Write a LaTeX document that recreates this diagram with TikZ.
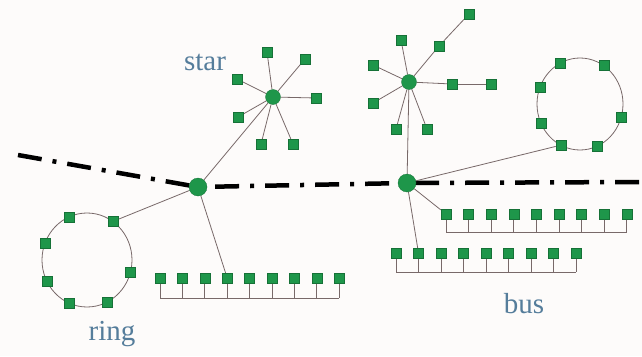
\documentclass[tikz,border=0pt]{standalone}
\usepackage{fontspec}
\setmainfont{Liberation Serif}
\usetikzlibrary{backgrounds,calc}
\definecolor{sqgreen}{RGB}{30,150,74}
\definecolor{lblblue}{RGB}{85,125,155}
\definecolor{wirecol}{RGB}{120,105,105}
\definecolor{bgcol}{RGB}{253,251,250}
\begin{document}
\begin{tikzpicture}[x=1pt,y=-1pt,
  sq/.style={fill=sqgreen, draw=sqgreen!75!black, line width=0.3pt, minimum size=10pt, inner sep=0pt},
  hub/.style={circle, fill=sqgreen, draw=sqgreen!75!black, line width=0.3pt, minimum size=18pt, inner sep=0pt},
  shub/.style={circle, fill=sqgreen, draw=sqgreen!75!black, line width=0.3pt, minimum size=15pt, inner sep=0pt},
  wire/.style={draw=wirecol, line width=0.8pt},
  backbone/.style={draw=black, line width=4.5pt, dash pattern=on 24pt off 11pt on 4pt off 11pt},
  lbl/.style={text=lblblue, font=\fontsize{29}{34}\selectfont, anchor=base, inner sep=0pt}]
\useasboundingbox (0,0) rectangle (642,356);
% hubs
\node[hub] (h1) at (198,187) {};
\node[hub] (h2) at (407,183) {};
\coordinate (bbL) at (18,155);
\coordinate (bbR) at (642,182);
% left star
\node[shub] (s) at (273,97) {};
\node[sq] (s1) at (267,52) {};
\node[sq] (s2) at (305,59) {};
\node[sq] (s3) at (237,79) {};
\node[sq] (s4) at (316,98) {};
\node[sq] (s5) at (238,117) {};
\node[sq] (s6) at (261,144) {};
\node[sq] (s7) at (293,144) {};
% right star
\node[shub] (t) at (409,82) {};
\node[sq] (t1) at (401,40) {};
\node[sq] (t2) at (439,46) {};
\node[sq] (t3) at (469,14) {};
\node[sq] (t4) at (373,65) {};
\node[sq] (t5) at (452,84) {};
\node[sq] (t6) at (491,84) {};
\node[sq] (t7) at (373,103) {};
\node[sq] (t8) at (396,129) {};
\node[sq] (t9) at (427,129) {};
% left ring
\coordinate (lc) at (87,260);
\foreach \a [count=\i] in {-112.8,-55,-159,15,153,113,64}
  \node[sq] (l\i) at ($(lc)+(\a:45 and 47)$) {};
% right ring
\coordinate (rc) at (580,104);
\foreach \a [count=\i] in {-117.5,-56.6,-158.3,16,156,116.5,66}
  \node[sq] (r\i) at ($(rc)+(\a:43 and 46)$) {};
% buses
\foreach \i in {1,...,9} {
  \node[sq] (b\i) at ({160+22.4*(\i-1)},278) {};
  \coordinate (bb\i) at ({160+22.4*(\i-1)},298);
  \node[sq] (u\i) at ({446+22.6*(\i-1)},214) {};
  \coordinate (ub\i) at ({446+22.6*(\i-1)},232);
  \node[sq] (w\i) at ({396+22.5*(\i-1)},253) {};
  \coordinate (wb\i) at ({396+22.5*(\i-1)},272);
}
% labels
\node[lbl] (starlbl) at (205,70) {star};
\node[lbl] (ringlbl) at (112,340) {ring};
\node[lbl] (buslbl) at (524,313) {bus};
\begin{scope}[on background layer]
  \fill[bgcol] (0,0) rectangle (642,356);
  \draw[backbone] (bbL) -- (h1.center) -- (h2.center) -- (bbR);
  \draw[wire] (lc) ellipse [x radius=45pt, y radius=47pt];
  \draw[wire] (rc) ellipse [x radius=43pt, y radius=46pt];
  \foreach \n in {s1,s2,s3,s4,s5,s6,s7} \draw[wire] (s) -- (\n);
  \foreach \n in {t1,t2,t4,t5,t7,t8,t9} \draw[wire] (t) -- (\n);
  \draw[wire] (t2) -- (t3);
  \draw[wire] (t5) -- (t6);
  \draw[wire] (s) -- (h1);
  \draw[wire] (t) -- (h2);
  \draw[wire] (h1) -- (l2);
  \draw[wire] (h1) -- (b4);
  \draw[wire] (h2) -- (r6);
  \draw[wire] (h2) -- (u1);
  \draw[wire] (h2) -- (w2);
  \foreach \i in {1,...,9} {
    \draw[wire] (b\i.center) -- (bb\i);
    \draw[wire] (u\i.center) -- (ub\i);
    \draw[wire] (w\i.center) -- (wb\i);
  }
  \draw[wire] (bb1) -- (bb9);
  \draw[wire] (ub1) -- (ub9);
  \draw[wire] (wb1) -- (wb9);
\end{scope}
\end{tikzpicture}
\end{document}
